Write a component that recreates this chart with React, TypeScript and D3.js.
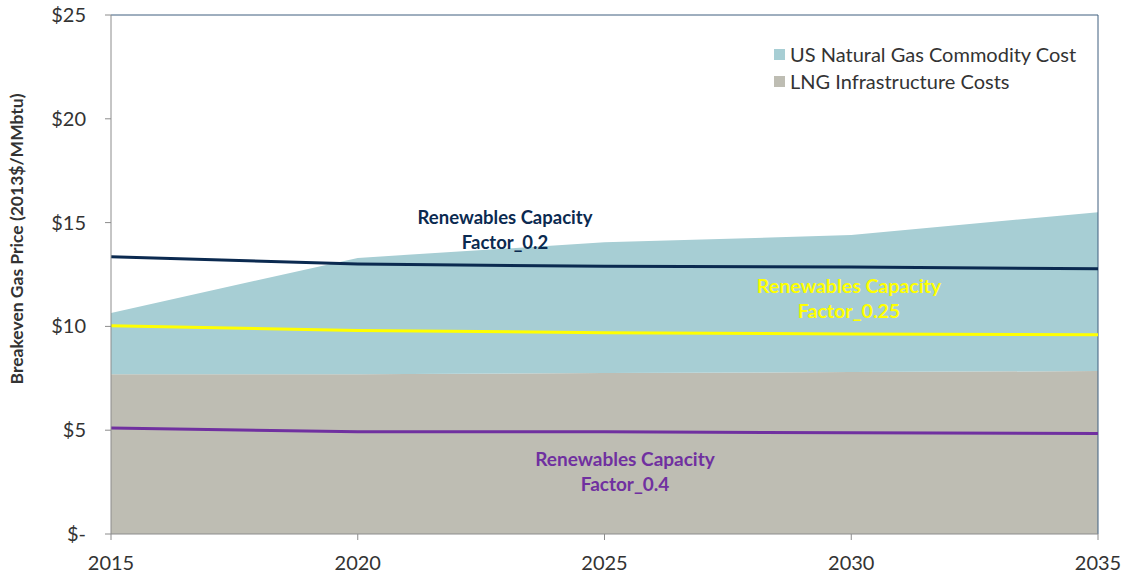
import React from "react";
import * as d3 from "d3";

const years = [2015, 2020, 2025, 2030, 2035];
const lngInfrastructure = [7.7, 7.7, 7.75, 7.8, 7.85];
const commodityCost = [2.95, 5.6, 6.3, 6.6, 7.65];
const capacity02 = [13.36, 13.0, 12.9, 12.86, 12.78];
const capacity025 = [10.03, 9.8, 9.7, 9.63, 9.6];
const capacity04 = [5.1, 4.93, 4.92, 4.88, 4.84];
const yTicks = [0, 5, 10, 15, 20, 25];
const legendLabels = ["US Natural Gas Commodity Cost", "LNG Infrastructure Costs"];

const W = 1127;
const H = 582;
const left = 111;
const right = 1098;
const top = 15;
const bottom = 534;
const font = "Lato, 'Open Sans', sans-serif";

export default function App() {
  const x = d3.scaleLinear().domain([2015, 2035]).range([left, right]);
  const y = d3.scaleLinear().domain([0, 25]).range([bottom, top]);

  const rows = years.map((yr, i) => ({
    year: yr,
    lng: lngInfrastructure[i],
    commodity: commodityCost[i],
  }));
  const stack = d3.stack<any>().keys(["lng", "commodity"])(rows);
  const area = d3
    .area<any>()
    .x((d) => x(d.data.year))
    .y0((d) => y(d[0]))
    .y1((d) => y(d[1]));
  const areaColors = ["#bebdb3", "#a7ced4"];

  const line = d3
    .line<number>()
    .x((_, i) => x(years[i]))
    .y((v) => y(v));

  const lines = [
    { values: capacity02, color: "#0b2a50" },
    { values: capacity025, color: "#ffff00" },
    { values: capacity04, color: "#7030a0" },
  ];

  const annotations = [
    { cx: 505, y1: 224, text2: "Factor_0.2", color: "#0b2a50", size: 18.5 },
    { cx: 849, y1: 293, text2: "Factor_0.25", color: "#ffff00", size: 19.5 },
    { cx: 625, y1: 466, text2: "Factor_0.4", color: "#7030a0", size: 19 },
  ];

  return (
    <svg width={W} height={H} style={{ display: "block", position: "absolute", left: 0, top: 0 }}>
      <rect width={W} height={H} fill="#ffffff" />
      {stack.map((s, i) => (
        <path key={i} d={area(s) || ""} fill={areaColors[i]} />
      ))}
      {/* plot frame on top and right */}
      <line x1={left} x2={right} y1={top} y2={top} stroke="#3f5f7f" strokeWidth={1} />
      <line x1={right} x2={right} y1={top} y2={bottom} stroke="#3f5f7f" strokeWidth={1} />
      {lines.map((l, i) => (
        <path key={i} d={line(l.values) || ""} fill="none" stroke={l.color} strokeWidth={3} />
      ))}
      {/* axes */}
      <line x1={left} x2={left} y1={top} y2={bottom} stroke="#8c8c8c" />
      <line x1={left} x2={right} y1={bottom} y2={bottom} stroke="#8c8c8c" />
      {yTicks.map((t) => (
        <g key={t}>
          <line x1={left - 6} x2={left} y1={y(t)} y2={y(t)} stroke="#8c8c8c" />
          <text
            x={86}
            y={y(t)}
            dy="0.35em"
            textAnchor="end"
            fontFamily={font}
            fontSize={20}
            fill="#333"
          >
            {t === 0 ? "$-" : `$${t}`}
          </text>
        </g>
      ))}
      {years.map((yr) => (
        <g key={yr}>
          <line x1={x(yr)} x2={x(yr)} y1={bottom} y2={bottom + 6} stroke="#8c8c8c" />
          <text
            x={x(yr)}
            y={563}
            dy="0.35em"
            textAnchor="middle"
            fontFamily={font}
            fontSize={20}
            fill="#333"
          >
            {yr}
          </text>
        </g>
      ))}
      <text
        transform={`translate(23,239) rotate(-90)`}
        textAnchor="middle"
        fontFamily={font}
        fontWeight="bold"
        fontSize={17.5}
        fill="#333"
      >
        Breakeven Gas Price (2013$/MMbtu)
      </text>
      {/* legend */}
      {legendLabels.map((lab, i) => (
        <g key={lab}>
          <rect x={774} y={49 + i * 27} width={11} height={11} fill={i === 0 ? "#a7ced4" : "#bebdb3"} />
          <text x={790} y={55 + i * 27} dy="0.35em" fontFamily={font} fontSize={20} fill="#333">
            {lab}
          </text>
        </g>
      ))}
      {annotations.map((a, i) => (
        <text
          key={i}
          textAnchor="middle"
          fontFamily={font}
          fontWeight="bold"
          fontSize={a.size}
          fill={a.color}
        >
          <tspan x={a.cx} y={a.y1}>Renewables Capacity</tspan>
          <tspan x={a.cx} y={a.y1 + 25}>{a.text2}</tspan>
        </text>
      ))}
    </svg>
  );
}
